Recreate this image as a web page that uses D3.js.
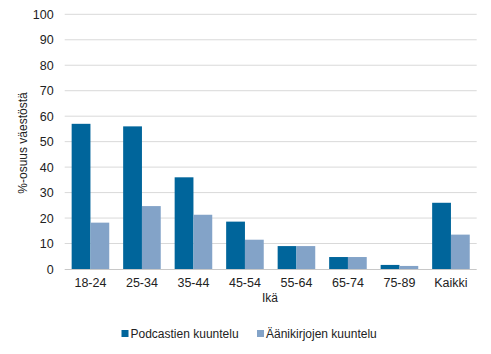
<!DOCTYPE html>
<html><head><meta charset="utf-8">
<script src="https://cdn.jsdelivr.net/npm/d3@7"></script>
<style>body{margin:0;background:#fff}text{font-family:"Liberation Sans",Arial,sans-serif}</style>
</head><body><svg id="c" width="491" height="354"></svg>
<script>
const categories = ["18-24","25-34","35-44","45-54","55-64","65-74","75-89","Kaikki"];
const podcast = [57, 56, 36, 18.6, 9, 4.7, 1.6, 26];
const audiobook = [18.2, 24.7, 21.3, 11.5, 9, 4.7, 1.2, 13.5];
const seriesNames = ["Podcastien kuuntelu","Äänikirjojen kuuntelu"];
const colors = ["#00659b","#83a3c8"];
const yTicks = [0,10,20,30,40,50,60,70,80,90,100];

const svg = d3.select("#c");
const FS = 12;
const L = 64.7, R = 476.7, T = 14.3, B = 269;
const x = d3.scaleBand().domain(categories).range([L,R]).paddingInner(0.27).paddingOuter(0.135);
const xi = d3.scaleBand().domain([0,1]).range([0,x.bandwidth()]);
const y = d3.scaleLinear().domain([0,100]).range([B,T]);

// grid
svg.append("g").selectAll("line").data(yTicks.filter(d=>d>0)).join("line")
  .attr("x1",L).attr("x2",R).attr("y1",d=>y(d)).attr("y2",d=>y(d))
  .attr("stroke","#d9d9d9").attr("stroke-width",1);

// y axis labels
const ya = d3.axisLeft(y).tickValues(yTicks).tickSize(0).tickPadding(11);
const gy = svg.append("g").attr("transform",`translate(${L},0)`).call(ya);
gy.select(".domain").remove();
gy.selectAll("text").attr("font-size",FS+0.5).attr("fill","#222").style("font-family","'Liberation Sans',Arial,sans-serif");

// bars
const data = [podcast, audiobook];
data.forEach((vals,si)=>{
  svg.append("g").selectAll("rect").data(vals).join("rect")
    .attr("x",(d,i)=>x(categories[i])+xi(si))
    .attr("width",xi.bandwidth())
    .attr("y",d=>y(d)).attr("height",d=>B-y(d))
    .attr("fill",colors[si]);
});

// x axis
const xa = d3.axisBottom(x).tickSize(0).tickPadding(9);
const gx = svg.append("g").attr("transform",`translate(0,${B})`).call(xa);
gx.select(".domain").attr("stroke","#c8c8c8").attr("d",`M${L},0.5H${R}`);
gx.selectAll("text").attr("font-size",FS+0.5).attr("fill","#222").style("font-family","'Liberation Sans',Arial,sans-serif");

// axis titles
svg.append("text").attr("x",270).attr("y",302).attr("text-anchor","middle")
  .attr("font-size",FS).attr("fill","#222").text("Ikä");
svg.append("text").attr("transform","translate(27,143) rotate(-90)").attr("text-anchor","middle")
  .attr("font-size",FS).attr("fill","#222").text("%-osuus väestöstä");

// legend
const lg = [{x:121.5,name:seriesNames[0],c:colors[0]},{x:257,name:seriesNames[1],c:colors[1]}];
lg.forEach(d=>{
  svg.append("rect").attr("x",d.x).attr("y",330).attr("width",7).attr("height",7).attr("fill",d.c);
  svg.append("text").attr("x",d.x+9).attr("y",338).attr("font-size",FS).attr("fill","#222").text(d.name);
});
</script></body></html>
